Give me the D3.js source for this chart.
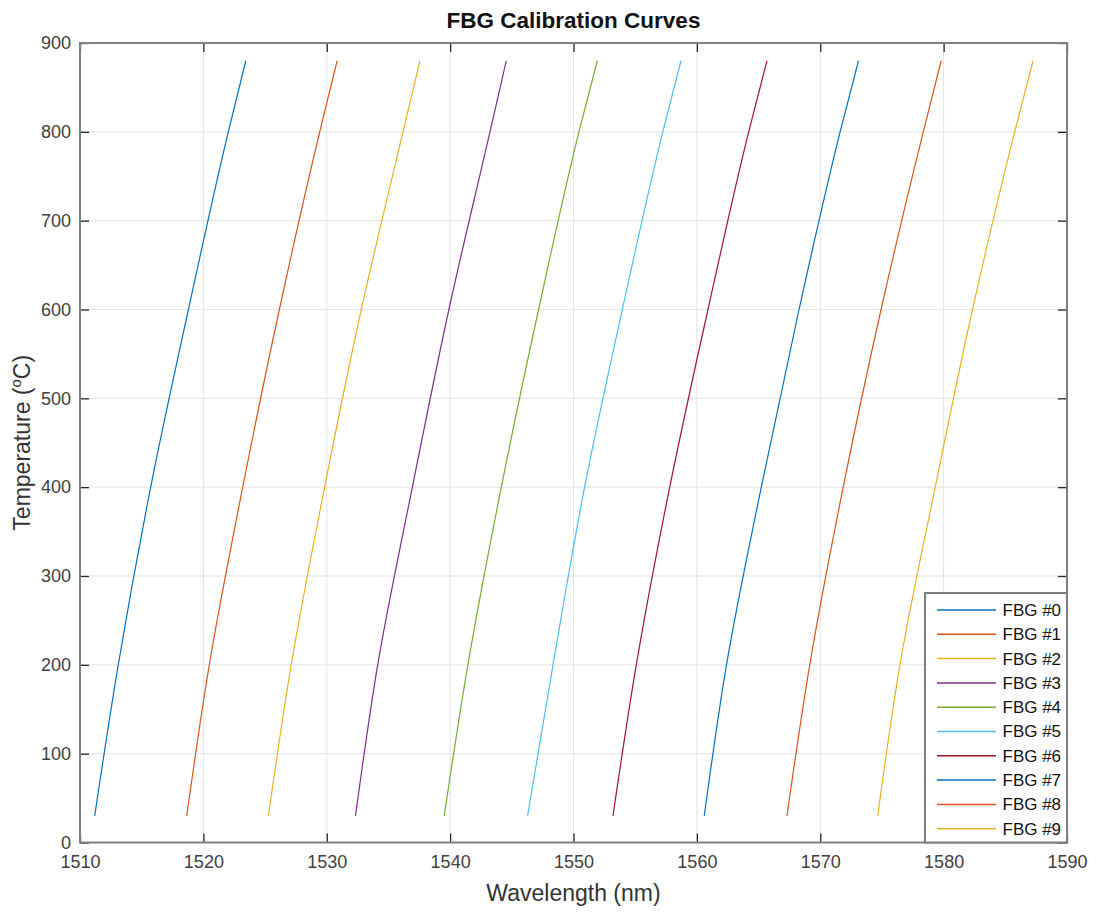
<!DOCTYPE html>
<html><head><meta charset="utf-8">
<script src="https://cdn.jsdelivr.net/npm/d3@7"></script>
<style>
html,body{margin:0;padding:0;background:#fff;}
svg{display:block;font-family:"Liberation Sans",Arial,sans-serif;}
</style></head>
<body>
<svg id="chart" width="1096" height="914"></svg>
<script>
// Temperatures (°C) at which wavelengths were read
const temps = [30, 200, 400, 600, 800, 880];
// Wavelengths (nm) per FBG at those temperatures
const fbg0 = [1511.19, 1513.10, 1515.73, 1518.79, 1522.02, 1523.44];
const fbg1 = [1518.65, 1520.48, 1523.19, 1526.16, 1529.43, 1530.84];
const fbg2 = [1525.27, 1527.12, 1529.83, 1532.80, 1536.18, 1537.55];
const fbg3 = [1532.33, 1534.13, 1536.94, 1539.90, 1543.23, 1544.55];
const fbg4 = [1539.52, 1541.44, 1544.15, 1547.17, 1550.44, 1551.93];
const fbg5 = [1546.28, 1548.34, 1550.90, 1553.96, 1557.24, 1558.71];
const fbg6 = [1553.20, 1555.09, 1557.80, 1560.90, 1564.20, 1565.68];
const fbg7 = [1560.60, 1562.40, 1565.22, 1568.28, 1571.61, 1573.10];
const fbg8 = [1567.30, 1569.15, 1571.86, 1574.93, 1578.35, 1579.80];
const fbg9 = [1574.66, 1576.46, 1579.32, 1582.34, 1585.76, 1587.25];
const seriesNames = ["FBG #0","FBG #1","FBG #2","FBG #3","FBG #4","FBG #5","FBG #6","FBG #7","FBG #8","FBG #9"];
const seriesValues = [fbg0,fbg1,fbg2,fbg3,fbg4,fbg5,fbg6,fbg7,fbg8,fbg9];
const colors = ["#0072BD","#D95319","#EDB120","#7E2F8E","#77AC30","#4DBEEE","#A2142F","#0072BD","#D95319","#EDB120"];
const xTicks = [1510,1520,1530,1540,1550,1560,1570,1580,1590];
const yTicks = [0,100,200,300,400,500,600,700,800,900];

const svg = d3.select("#chart");
const L = 80, R = 1067, T = 43, B = 842.5;
const x = d3.scaleLinear().domain([1510,1590]).range([L,R]);
const y = d3.scaleLinear().domain([0,900]).range([B,T]);

// grid
const g = svg.append("g");
g.selectAll(".vg").data(xTicks.slice(1,-1)).enter().append("line")
 .attr("x1",d=>x(d)).attr("x2",d=>x(d)).attr("y1",T).attr("y2",B)
 .attr("stroke","#e3e3e3").attr("stroke-width",1);
g.selectAll(".hg").data(yTicks.slice(1,-1)).enter().append("line")
 .attr("x1",L).attr("x2",R).attr("y1",d=>y(d)).attr("y2",d=>y(d))
 .attr("stroke","#e3e3e3").attr("stroke-width",1);

// curves
const line = d3.line().x(d=>x(d[0])).y(d=>y(d[1])).curve(d3.curveMonotoneY);
seriesValues.forEach((vals,i)=>{
  const pts = vals.map((w,j)=>[w,temps[j]]);
  svg.append("path").datum(pts).attr("d",line)
    .attr("fill","none").attr("stroke",colors[i]).attr("stroke-width",1.2);
});

// axes
const tickCol = "#262626";
const axB = svg.append("g").attr("transform",`translate(0,${B})`)
 .call(d3.axisBottom(x).tickValues(xTicks).tickFormat(d3.format("d")).tickSizeInner(-9).tickSizeOuter(0).tickPadding(12));
const axT = svg.append("g").attr("transform",`translate(0,${T})`)
 .call(d3.axisTop(x).tickValues(xTicks).tickFormat("").tickSizeInner(-9).tickSizeOuter(0));
const axL = svg.append("g").attr("transform",`translate(${L},0)`)
 .call(d3.axisLeft(y).tickValues(yTicks).tickFormat(d3.format("d")).tickSizeInner(-9).tickSizeOuter(0).tickPadding(9));
const axR = svg.append("g").attr("transform",`translate(${R},0)`)
 .call(d3.axisRight(y).tickValues(yTicks).tickFormat("").tickSizeInner(-9).tickSizeOuter(0));
[axB,axT,axL,axR].forEach(a=>{
  a.select(".domain").remove();
  a.selectAll(".tick line").attr("stroke",tickCol).attr("stroke-width",1.3);
  a.selectAll(".tick text").attr("fill","#404040").attr("font-size",18)
   .attr("font-family","Liberation Sans, Arial, sans-serif");
});
axB.selectAll(".tick text").attr("dy","0.75em");
// box
svg.append("rect").attr("x",L).attr("y",T).attr("width",R-L).attr("height",B-T)
 .attr("fill","none").attr("stroke","#7f7f7f").attr("stroke-width",2);

// title & labels
svg.append("text").attr("x",(L+R)/2).attr("y",28).attr("text-anchor","middle")
 .attr("font-size",22.5).attr("font-weight","bold").attr("fill","#111").text("FBG Calibration Curves");
svg.append("text").attr("x",(L+R)/2).attr("y",901).attr("text-anchor","middle")
 .attr("font-size",23).attr("fill","#333").text("Wavelength (nm)");
const yl = svg.append("text").attr("transform",`translate(30,${(T+B)/2}) rotate(-90)`)
 .attr("text-anchor","middle").attr("font-size",23).attr("fill","#333");
yl.append("tspan").text("Temperature (");
yl.append("tspan").attr("font-size",15).attr("dy",-9).text("o");
yl.append("tspan").attr("dy",9).text("C)");

// legend
const lg = svg.append("g");
lg.append("rect").attr("x",925).attr("y",593).attr("width",R-925).attr("height",B-593)
 .attr("fill","#fff").attr("stroke","#7f7f7f").attr("stroke-width",2);
seriesNames.forEach((n,i)=>{
  const yy = 610 + i*24.3;
  lg.append("line").attr("x1",937).attr("x2",996).attr("y1",yy).attr("y2",yy)
    .attr("stroke",colors[i]).attr("stroke-width",1.5);
  lg.append("text").attr("x",1002.5).attr("y",yy).attr("dy","0.35em")
    .attr("font-size",17).attr("fill","#111").text(n);
});
</script>
</body></html>
